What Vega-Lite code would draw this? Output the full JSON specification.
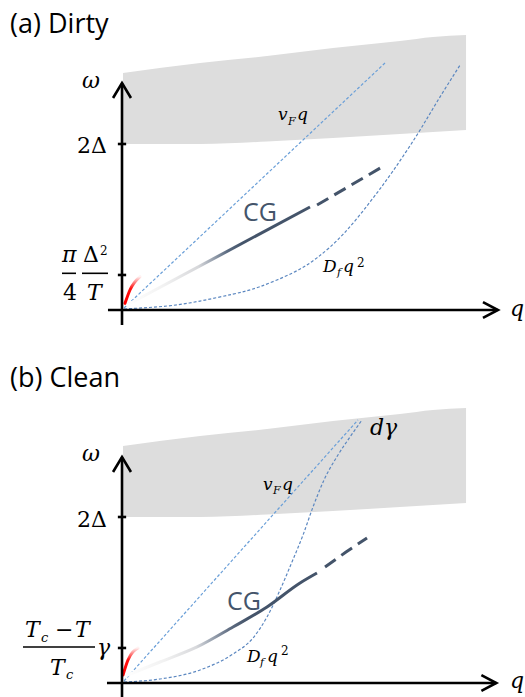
{
  "$schema": "https://vega.github.io/schema/vega-lite/v6.json",
  "padding": 0,
  "spacing": 0,
  "bounds": "flush",
  "config": {
    "view": {"stroke": null},
    "text": {"align": "left", "baseline": "alphabetic", "color": "#000000"}
  },
  "vconcat": [
    {
      "width": 525,
      "height": 348,
      "encoding": {
        "x": {"field": "q", "type": "quantitative", "scale": {"domain": [-1.4699, 4.8554], "nice": false, "zero": false}, "axis": null},
        "y": {"field": "w", "type": "quantitative", "scale": {"domain": [-0.4578, 3.7349], "nice": false, "zero": false}, "axis": null}
      },
      "layer": [
        {
          "data": {"values": [
            {"q": 0.012, "w": 2.855, "w2": 2.0},
            {"q": 0.94, "w": 2.976, "w2": 2.0},
            {"q": 1.747, "w": 3.06, "w2": 2.03},
            {"q": 2.542, "w": 3.157, "w2": 2.072},
            {"q": 3.349, "w": 3.241, "w2": 2.12},
            {"q": 3.747, "w": 3.289, "w2": 2.145},
            {"q": 4.145, "w": 3.313, "w2": 2.169}
          ]},
          "mark": {"type": "area", "color": "#dddddd", "interpolate": "monotone"},
          "encoding": {
            "y": {"field": "w", "type": "quantitative", "stack": null},
            "y2": {"field": "w2"}
          }
        },
        {
          "data": {"values": [{"q": 0.024, "w": 0.024}, {"q": 3.169, "w": 2.976}]},
          "mark": {"type": "line", "stroke": "#6a9fd8", "strokeWidth": 1.2, "strokeDash": [3, 2]}
        },
        {
          "data": {"values": [
            {"q": 0.024, "w": 0.012}, {"q": 0.542, "w": 0.048}, {"q": 0.94, "w": 0.108},
            {"q": 1.337, "w": 0.191}, {"q": 1.663, "w": 0.282}, {"q": 2.06, "w": 0.449},
            {"q": 2.349, "w": 0.628}, {"q": 2.663, "w": 0.911}, {"q": 2.988, "w": 1.301},
            {"q": 3.265, "w": 1.675}, {"q": 3.554, "w": 2.109}, {"q": 3.795, "w": 2.507},
            {"q": 4.072, "w": 2.95}
          ]},
          "mark": {"type": "line", "stroke": "#5b87c0", "strokeWidth": 1.2, "strokeDash": [3, 2], "interpolate": "natural"}
        },
        {
          "data": {"values": [{"q": 0.06, "w": 0.06}, {"q": 2.265, "w": 1.241}]},
          "mark": {"type": "line", "strokeWidth": 3, "stroke": {"gradient": "linear", "x1": 0, "y1": 0, "x2": 1, "y2": 0, "stops": [
            {"offset": 0, "color": "#ffffff"},
            {"offset": 0.2, "color": "#f2f2f2"},
            {"offset": 0.39, "color": "#d6d7da"},
            {"offset": 0.46, "color": "#a0a8b4"},
            {"offset": 0.55, "color": "#5a6a80"},
            {"offset": 0.63, "color": "#44546a"},
            {"offset": 1, "color": "#44546a"}
          ]}}
        },
        {
          "data": {"values": [{"q": 2.35, "w": 1.265}, {"q": 3.133, "w": 1.723}]},
          "mark": {"type": "line", "stroke": "#44546a", "strokeWidth": 3, "strokeDash": [13, 7]}
        },
        {
          "data": {"values": [{"q": 0.036, "w": 0.08}, {"q": 0.096, "w": 0.241}, {"q": 0.217, "w": 0.402}]},
          "mark": {"type": "line", "strokeWidth": 3, "strokeCap": "round", "interpolate": "monotone", "stroke": {"gradient": "linear", "x1": 0, "y1": 1, "x2": 0, "y2": 0, "stops": [
            {"offset": 0, "color": "#ff0000"},
            {"offset": 0.55, "color": "#ff1010"},
            {"offset": 1, "color": "rgba(255,0,0,0.05)"}
          ]}}
        },
        {
          "data": {"values": [
            {"seg": "yaxis", "i": 0, "q": 0, "w": -0.181}, {"seg": "yaxis", "i": 1, "q": 0, "w": 2.73},
            {"seg": "xaxis", "i": 0, "q": -0.169, "w": 0}, {"seg": "xaxis", "i": 1, "q": 4.525, "w": 0},
            {"seg": "yhead", "i": 0, "q": -0.108, "w": 2.554}, {"seg": "yhead", "i": 1, "q": 0, "w": 2.735}, {"seg": "yhead", "i": 2, "q": 0.108, "w": 2.554},
            {"seg": "xhead", "i": 0, "q": 4.349, "w": 0.096}, {"seg": "xhead", "i": 1, "q": 4.53, "w": 0}, {"seg": "xhead", "i": 2, "q": 4.349, "w": -0.096},
            {"seg": "tick2D", "i": 0, "q": -0.05, "w": 2.0}, {"seg": "tick2D", "i": 1, "q": 0.05, "w": 2.0},
            {"seg": "tickT", "i": 0, "q": -0.05, "w": 0.422}, {"seg": "tickT", "i": 1, "q": 0.05, "w": 0.422}
          ]},
          "mark": {"type": "line", "stroke": "#000000", "strokeWidth": 2.6, "strokeJoin": "miter"},
          "encoding": {"detail": {"field": "seg"}, "order": {"field": "i"}}
        },
        {
          "data": {"values": [{"q": -0.723, "q2": -0.554, "w": 0.442}, {"q": -0.482, "q2": -0.169, "w": 0.442}]},
          "mark": {"type": "rule", "stroke": "#000000", "strokeWidth": 1.6},
          "encoding": {"x2": {"field": "q2"}}
        },
        {
          "data": {"values": [{"q": -1.349, "w": 3.334, "t": "(a) Dirty"}]},
          "mark": {"type": "text", "font": "Open Sans", "fontSize": 27},
          "encoding": {"text": {"field": "t"}}
        },
        {
          "data": {"values": [{"q": 1.458, "w": 1.072, "t": "CG"}]},
          "mark": {"type": "text", "font": "Open Sans", "fontSize": 25, "color": "#44546a"},
          "encoding": {"text": {"field": "t"}}
        },
        {
          "data": {"values": [
            {"q": -0.482, "w": 2.675, "t": "ω"},
            {"q": 4.675, "w": -0.072, "t": "q"},
            {"q": -0.723, "w": 0.578, "t": "π"},
            {"q": -0.422, "w": 0.12, "t": "T"}
          ]},
          "mark": {"type": "text", "font": "DejaVu Serif", "fontStyle": "italic", "fontSize": 22},
          "encoding": {"text": {"field": "t"}}
        },
        {
          "data": {"values": [
            {"q": -0.542, "w": 1.892, "t": "2Δ"},
            {"q": -0.47, "w": 0.578, "t": "Δ"},
            {"q": -0.711, "w": 0.12, "t": "4"}
          ]},
          "mark": {"type": "text", "font": "DejaVu Serif", "fontSize": 22},
          "encoding": {"text": {"field": "t"}}
        },
        {
          "data": {"values": [
            {"q": 1.88, "w": 2.289, "t": "v"},
            {"q": 2.108, "w": 2.289, "t": "q"},
            {"q": 2.422, "w": 0.458, "t": "D"},
            {"q": 2.663, "w": 0.458, "t": "q"}
          ]},
          "mark": {"type": "text", "font": "DejaVu Serif", "fontStyle": "italic", "fontSize": 17},
          "encoding": {"text": {"field": "t"}}
        },
        {
          "data": {"values": [
            {"q": 2.0, "w": 2.229, "t": "F"},
            {"q": 2.59, "w": 0.41, "t": "f"}
          ]},
          "mark": {"type": "text", "font": "DejaVu Serif", "fontStyle": "italic", "fontSize": 11},
          "encoding": {"text": {"field": "t"}}
        },
        {
          "data": {"values": [
            {"q": 2.831, "w": 0.518, "t": "2"},
            {"q": -0.265, "w": 0.663, "t": "2"}
          ]},
          "mark": {"type": "text", "font": "DejaVu Serif", "fontSize": 12},
          "encoding": {"text": {"field": "t"}}
        }
      ]
    },
    {
      "width": 525,
      "height": 349,
      "encoding": {
        "x": {"field": "q", "type": "quantitative", "scale": {"domain": [-1.4699, 4.8554], "nice": false, "zero": false}, "axis": null},
        "y": {"field": "w", "type": "quantitative", "scale": {"domain": [-0.1687, 4.0361], "nice": false, "zero": false}, "axis": null}
      },
      "layer": [
        {
          "data": {"values": [
            {"q": 0.012, "w": 2.855, "w2": 2.0},
            {"q": 0.94, "w": 2.976, "w2": 2.0},
            {"q": 1.747, "w": 3.06, "w2": 2.03},
            {"q": 2.542, "w": 3.157, "w2": 2.072},
            {"q": 3.349, "w": 3.241, "w2": 2.12},
            {"q": 3.747, "w": 3.289, "w2": 2.145},
            {"q": 4.145, "w": 3.313, "w2": 2.169}
          ]},
          "mark": {"type": "area", "color": "#dddddd", "interpolate": "monotone"},
          "encoding": {
            "y": {"field": "w", "type": "quantitative", "stack": null},
            "y2": {"field": "w2"}
          }
        },
        {
          "data": {"values": [{"q": 0.024, "w": 0.024}, {"q": 2.843, "w": 3.169}]},
          "mark": {"type": "line", "stroke": "#6a9fd8", "strokeWidth": 1.2, "strokeDash": [3, 2]}
        },
        {
          "data": {"values": [
            {"q": 0.024, "w": 0.012}, {"q": 0.458, "w": 0.048}, {"q": 0.94, "w": 0.157},
            {"q": 1.337, "w": 0.349}, {"q": 1.578, "w": 0.542}, {"q": 1.747, "w": 0.795},
            {"q": 1.904, "w": 1.12}, {"q": 2.048, "w": 1.458}, {"q": 2.181, "w": 1.783},
            {"q": 2.301, "w": 2.12}, {"q": 2.434, "w": 2.446}, {"q": 2.602, "w": 2.747},
            {"q": 2.747, "w": 2.964}, {"q": 2.892, "w": 3.169}
          ]},
          "mark": {"type": "line", "stroke": "#5b87c0", "strokeWidth": 1.2, "strokeDash": [3, 2], "interpolate": "monotone"}
        },
        {
          "data": {"values": [
            {"q": 0.036, "w": 0.084}, {"q": 0.458, "w": 0.253}, {"q": 0.904, "w": 0.434},
            {"q": 1.337, "w": 0.675}, {"q": 1.747, "w": 0.916}, {"q": 2.145, "w": 1.205},
            {"q": 2.349, "w": 1.325}
          ]},
          "mark": {"type": "line", "strokeWidth": 3, "interpolate": "monotone", "stroke": {"gradient": "linear", "x1": 0, "y1": 0, "x2": 1, "y2": 0, "stops": [
            {"offset": 0, "color": "#ffffff"},
            {"offset": 0.2, "color": "#f2f2f2"},
            {"offset": 0.37, "color": "#d8d9dc"},
            {"offset": 0.44, "color": "#a4acb8"},
            {"offset": 0.55, "color": "#5d6b80"},
            {"offset": 0.64, "color": "#44546a"},
            {"offset": 1, "color": "#44546a"}
          ]}}
        },
        {
          "data": {"values": [{"q": 2.446, "w": 1.398}, {"q": 2.699, "w": 1.578}, {"q": 2.952, "w": 1.747}]},
          "mark": {"type": "line", "stroke": "#44546a", "strokeWidth": 3, "strokeDash": [13, 7]}
        },
        {
          "data": {"values": [{"q": 0.012, "w": 0.096}, {"q": 0.072, "w": 0.277}, {"q": 0.193, "w": 0.422}]},
          "mark": {"type": "line", "strokeWidth": 3, "strokeCap": "round", "interpolate": "monotone", "stroke": {"gradient": "linear", "x1": 0, "y1": 1, "x2": 0, "y2": 0, "stops": [
            {"offset": 0, "color": "#ff0000"},
            {"offset": 0.55, "color": "#ff1010"},
            {"offset": 1, "color": "rgba(255,0,0,0.05)"}
          ]}}
        },
        {
          "data": {"values": [
            {"seg": "yaxis", "i": 0, "q": 0, "w": -0.169}, {"seg": "yaxis", "i": 1, "q": 0, "w": 2.718},
            {"seg": "xaxis", "i": 0, "q": -0.181, "w": 0}, {"seg": "xaxis", "i": 1, "q": 4.51, "w": 0},
            {"seg": "yhead", "i": 0, "q": -0.108, "w": 2.542}, {"seg": "yhead", "i": 1, "q": 0, "w": 2.723}, {"seg": "yhead", "i": 2, "q": 0.108, "w": 2.542},
            {"seg": "xhead", "i": 0, "q": 4.33, "w": 0.096}, {"seg": "xhead", "i": 1, "q": 4.51, "w": 0}, {"seg": "xhead", "i": 2, "q": 4.33, "w": -0.096},
            {"seg": "tick2D", "i": 0, "q": -0.05, "w": 2.0}, {"seg": "tick2D", "i": 1, "q": 0.05, "w": 2.0},
            {"seg": "tickG", "i": 0, "q": -0.05, "w": 0.422}, {"seg": "tickG", "i": 1, "q": 0.05, "w": 0.422}
          ]},
          "mark": {"type": "line", "stroke": "#000000", "strokeWidth": 2.6, "strokeJoin": "miter"},
          "encoding": {"detail": {"field": "seg"}, "order": {"field": "i"}}
        },
        {
          "data": {"values": [{"q": -1.193, "q2": -0.325, "w": 0.434}]},
          "mark": {"type": "rule", "stroke": "#000000", "strokeWidth": 1.6},
          "encoding": {"x2": {"field": "q2"}}
        },
        {
          "data": {"values": [{"q": -1.349, "w": 3.57, "t": "(b) Clean"}]},
          "mark": {"type": "text", "font": "Open Sans", "fontSize": 27},
          "encoding": {"text": {"field": "t"}}
        },
        {
          "data": {"values": [{"q": 1.265, "w": 0.88, "t": "CG"}]},
          "mark": {"type": "text", "font": "Open Sans", "fontSize": 25, "color": "#44546a"},
          "encoding": {"text": {"field": "t"}}
        },
        {
          "data": {"values": [
            {"q": -0.482, "w": 2.675, "t": "ω"},
            {"q": 4.675, "w": -0.066, "t": "q"},
            {"q": 2.988, "w": 2.988, "t": "dγ"},
            {"q": -1.169, "w": 0.554, "t": "T"},
            {"q": -0.566, "w": 0.554, "t": "T"},
            {"q": -0.867, "w": 0.096, "t": "T"},
            {"q": -0.301, "w": 0.337, "t": "γ"}
          ]},
          "mark": {"type": "text", "font": "DejaVu Serif", "fontStyle": "italic", "fontSize": 22},
          "encoding": {"text": {"field": "t"}}
        },
        {
          "data": {"values": [
            {"q": -0.542, "w": 1.88, "t": "2Δ"},
            {"q": -0.807, "w": 0.554, "t": "−"}
          ]},
          "mark": {"type": "text", "font": "DejaVu Serif", "fontSize": 22},
          "encoding": {"text": {"field": "t"}}
        },
        {
          "data": {"values": [
            {"q": 1.699, "w": 2.325, "t": "v"},
            {"q": 1.928, "w": 2.325, "t": "q"},
            {"q": 1.506, "w": 0.253, "t": "D"},
            {"q": 1.747, "w": 0.253, "t": "q"}
          ]},
          "mark": {"type": "text", "font": "DejaVu Serif", "fontStyle": "italic", "fontSize": 17},
          "encoding": {"text": {"field": "t"}}
        },
        {
          "data": {"values": [
            {"q": 1.819, "w": 2.277, "t": "F"},
            {"q": 1.663, "w": 0.205, "t": "f"}
          ]},
          "mark": {"type": "text", "font": "DejaVu Serif", "fontStyle": "italic", "fontSize": 11},
          "encoding": {"text": {"field": "t"}}
        },
        {
          "data": {"values": [
            {"q": -0.976, "w": 0.494, "t": "c"},
            {"q": -0.675, "w": 0.048, "t": "c"}
          ]},
          "mark": {"type": "text", "font": "DejaVu Serif", "fontStyle": "italic", "fontSize": 13},
          "encoding": {"text": {"field": "t"}}
        },
        {
          "data": {"values": [{"q": 1.916, "w": 0.337, "t": "2"}]},
          "mark": {"type": "text", "font": "DejaVu Serif", "fontSize": 12},
          "encoding": {"text": {"field": "t"}}
        }
      ]
    }
  ]
}
